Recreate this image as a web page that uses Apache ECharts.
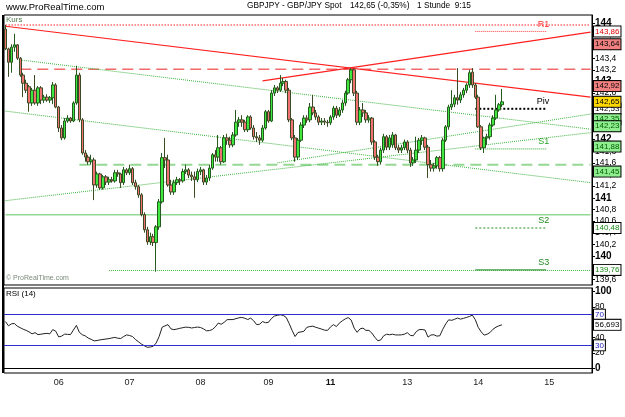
<!DOCTYPE html>
<html>
<head>
<meta charset="utf-8">
<script src="https://cdn.jsdelivr.net/npm/echarts@6/dist/echarts.min.js"></script>
<style>
  html, body { margin: 0; padding: 0; background: #fff; }
  #chart { width: 625px; height: 417px; }
</style>
</head>
<body>
<div id="chart"></div>
<script>
// day labels on the time axis and the hourly slot they sit on
const dayLabels = ['06', '07', '08', '09', '11', '13', '14', '15'];
const dayIndex = [18, 42, 66, 89, 110, 136, 160, 184];
const slotCount = 199;

// hourly candles: open, close, low, high
const candles = [
  [143.90,143.56,143.54,143.97],[143.56,143.33,143.08,143.58],[143.33,143.59,143.15,143.64],[143.59,143.63,143.51,143.82],
  [143.63,143.40,143.37,143.64],[143.40,143.11,143.08,143.42],[143.11,142.97,142.73,143.15],[142.97,142.85,142.80,143.03],
  [142.91,142.63,142.48,142.94],[142.63,142.85,142.58,142.89],[142.85,142.63,142.60,143.11],[142.63,142.89,142.58,142.92],
  [142.89,142.68,142.61,142.92],[142.68,142.73,142.63,142.77],[142.73,142.68,142.65,142.78],[142.68,142.72,142.63,142.75],
  [142.72,142.94,142.61,142.99],[142.94,142.56,142.54,142.97],[142.56,142.20,142.13,142.58],[142.20,142.03,141.99,142.25],
  [142.03,142.32,142.00,142.37],[142.32,142.37,142.29,142.42],[142.37,142.32,142.29,142.39],[142.32,142.63,142.30,142.66],
  [142.63,143.11,142.60,143.27],[143.11,142.34,142.30,143.15],[142.34,141.77,141.74,142.37],[141.77,141.70,141.62,141.82],
  [141.70,141.62,141.57,141.74],[141.62,141.65,141.57,141.74],[141.65,141.22,140.96,141.69],[141.22,141.41,141.17,141.45],
  [141.41,141.17,141.14,141.43],[141.17,141.36,141.14,141.39],[141.36,141.27,141.22,141.39],[141.27,141.31,141.22,141.36],
  [141.31,141.29,141.26,141.36],[141.29,141.43,141.26,141.48],[141.43,141.41,141.36,141.48],[141.41,141.26,141.17,141.43],
  [141.26,141.48,141.22,141.53],[141.48,141.43,141.39,141.51],[141.43,141.50,141.39,141.57],[141.50,141.26,141.22,141.53],
  [141.26,141.19,141.14,141.31],[141.19,141.05,141.00,141.22],[141.05,140.71,140.68,141.08],[140.71,140.45,140.40,140.75],
  [140.45,140.24,140.19,140.50],[140.24,140.33,140.19,140.40],[140.33,140.23,140.17,140.38],[140.23,140.50,139.73,140.53],
  [140.50,140.93,140.45,140.98],[140.93,141.69,140.90,141.77],[141.69,141.65,141.51,142.03],[141.65,141.22,141.19,141.74],
  [141.22,141.10,141.05,141.31],[141.10,141.26,141.05,141.31],[141.26,141.31,141.22,141.36],[141.31,141.29,141.22,141.34],
  [141.29,141.45,141.26,141.50],[141.45,141.48,141.41,141.57],[141.48,141.39,141.34,141.51],[141.39,141.36,141.29,141.45],
  [141.36,141.31,141.00,141.45],[141.31,141.45,141.27,141.50],[141.45,141.48,141.39,141.53],[141.48,141.27,141.22,141.50],
  [141.27,141.34,141.22,141.39],[141.34,141.51,141.29,141.57],[141.51,141.74,141.48,141.77],[141.74,141.70,141.62,141.82],
  [141.70,141.86,141.62,142.08],[141.86,141.62,141.57,141.89],[141.62,142.03,141.60,142.08],[142.03,141.99,141.91,142.10],
  [141.99,141.91,141.86,142.05],[141.91,142.08,141.87,142.13],[142.08,142.30,142.05,142.51],[142.30,142.34,142.22,142.39],
  [142.34,142.30,142.22,142.42],[142.30,142.17,142.13,142.34],[142.17,142.39,142.13,142.42],[142.39,142.20,142.17,142.42],
  [142.20,142.05,142.00,142.25],[142.05,142.03,141.96,142.13],[142.03,141.99,141.91,142.08],[141.99,142.20,141.96,142.25],
  [142.20,142.48,142.17,142.51],[142.48,142.32,142.29,142.51],[142.32,142.80,142.30,142.85],[142.80,142.89,142.75,142.94],
  [142.89,142.85,142.80,142.92],[142.85,142.97,142.82,143.11],[142.97,143.00,142.92,143.06],[143.00,142.85,142.80,143.03],
  [142.85,142.34,142.30,142.89],[142.34,142.03,141.99,142.37],[142.03,141.70,141.62,142.08],[141.70,141.99,141.65,142.03],
  [141.99,142.25,141.96,142.30],[142.25,142.37,142.20,142.42],[142.37,142.34,142.29,142.42],[142.34,142.56,142.30,142.63],
  [142.56,142.46,142.42,142.77],[142.46,142.39,142.34,142.51],[142.39,142.30,142.25,142.42],[142.30,142.32,142.25,142.37],
  [142.32,142.30,142.25,142.37],[142.30,142.29,142.22,142.34],[142.29,142.39,142.25,142.42],[142.39,142.54,142.34,142.58],
  [142.54,142.42,142.37,142.58],[142.42,142.51,142.39,142.56],[142.51,142.63,142.46,142.68],[142.63,142.80,142.58,142.84],
  [142.80,143.03,142.77,143.06],[143.03,143.20,142.97,143.23],[143.20,142.80,142.75,143.22],[142.80,142.30,142.25,142.84],
  [142.30,142.51,142.25,142.56],[142.51,142.46,142.39,142.63],[142.46,142.34,142.29,142.51],[142.34,142.37,142.29,142.42],
  [142.37,141.96,141.91,142.39],[141.96,141.70,141.65,141.99],[141.70,141.62,141.55,141.74],[141.62,141.82,141.57,141.86],
  [141.82,142.05,141.77,142.10],[142.05,141.87,141.82,142.08],[141.87,142.03,141.82,142.08],[141.91,142.08,141.86,142.13],
  [142.08,141.86,141.82,142.10],[141.86,141.82,141.77,141.91],[141.82,141.86,141.77,141.91],[141.86,141.96,141.82,142.00],
  [141.96,141.82,141.77,141.99],[141.82,141.60,141.53,141.86],[141.60,141.65,141.55,141.70],[141.65,141.82,141.60,142.05],
  [141.82,141.99,141.77,142.03],[141.99,142.03,141.91,142.08],[142.03,141.87,141.82,142.05],[141.87,141.57,141.34,141.91],
  [141.57,141.51,141.45,141.65],[141.51,141.55,141.45,141.60],[141.55,141.69,141.50,141.72],[141.69,141.50,141.45,141.72],
  [141.50,141.99,141.45,142.03],[141.99,142.22,141.96,142.25],[142.22,142.56,142.17,142.60],[142.56,142.61,142.51,142.85],
  [142.61,142.72,142.56,142.77],[142.72,142.68,142.60,143.23],[142.68,142.77,142.63,142.82],[142.77,142.85,142.72,142.89],
  [142.85,142.94,142.80,142.97],[142.94,143.15,142.89,143.20],[143.16,142.94,142.89,143.23],[142.94,142.73,142.70,142.97],
  [142.73,142.22,142.20,142.77],[142.22,141.86,141.82,142.25],[141.86,142.03,141.77,142.05],[142.03,142.05,141.91,142.10],
  [142.05,142.25,142.00,142.29],[142.25,142.37,142.22,142.42],[142.37,142.51,142.34,142.77],[142.51,142.60,142.48,142.63],
  [142.60,142.65,142.56,142.87]
];

const rsi = [
  61, 55.5, 58, 58.5, 55, 53, 51, 49.5, 47.5, 45,
  46.5, 44, 44.5, 45.2, 45.6, 45, 50.5, 48.5, 41, 42,
  44.6, 44.3, 44, 50, 56, 47, 43.8, 42.3, 39.5, 37.8,
  35.8, 36.3, 37.1, 37.7, 38.2, 38.8, 39.6, 40.4, 39.3, 38.9,
  41.5, 43.6, 42.8, 41.5, 37.5, 34.7, 31.7, 29.4, 27.4, 27.8,
  28.8, 33, 41.5, 53.5, 55.5, 57, 51.5, 50.4, 51.2, 52.2,
  53, 53.7, 53.5, 52.6, 53.3, 53.8, 53.3, 51.5, 49, 49.2,
  50.6, 54, 59, 57.5, 60, 63.5, 63.6, 63.6, 64.8, 65.9,
  66.4, 65.3, 63.7, 65.5, 62, 57, 57.5, 61, 59.5, 60,
  65, 68.2, 69.1, 69.9, 69, 66.5, 58.5, 49.5, 41.5, 46.8,
  47.5, 48.3, 53.5, 54.5, 55, 53.5, 52.4, 51.2, 49.8, 49.5,
  54, 57, 54.5, 59, 62, 64.5, 66.2, 63, 52.5, 47,
  51.5, 52.5, 49.5, 49.5, 46, 40.5, 36, 37, 42.5, 44.5,
  43.8, 44.5, 43.6, 43.5, 43.7, 44.5, 46.5, 43, 42.5, 47.8,
  50.5, 50.6, 50, 40.7, 43.5, 43.8, 42, 42.5, 51, 58,
  63.3, 62.6, 64, 65.6, 64.2, 65.2, 66.4, 67.6, 69.4, 63.5,
  53.5, 47.5, 43.3, 44.5, 46.8, 51, 53.7, 55.5, 56.7
];
const rsiLast = 56.693;
const rsiBands = [70, 30];

const priceTicks = [139.6, 139.8, 140, 140.2, 140.4, 140.6, 140.8, 141, 141.2, 141.4, 141.6, 141.8,
  142, 142.2, 142.4, 142.6, 142.8, 143, 143.2, 143.4, 143.6, 143.8, 144];
const rsiTicks = [0, 20, 40, 60, 80, 100];

// value boxes on the price scale
const priceBoxes = [143.86, 143.64, 142.92, 142.53, 142.65, 142.35, 142.23, 141.88, 141.45, 140.48, 139.76];

// trend lines and levels: [slot, price] pairs
const topDotted = [[0, 143.97], [198, 143.97]];
const redDown = [[0, 143.95], [198, 142.73]];
const redUp = [[87, 143.01], [198, 143.85]];
const redDashed = [[5, 143.21], [198, 143.21]];
const greenA = [[0, 142.49], [198, 141.26]];
const greenB = [[5, 143.37], [198, 142.18]];
const greenC = [[0, 140.95], [198, 142.12]];
const greenD = [[92, 141.60], [198, 142.44]];
const supportDashed = [[25, 141.57], [198, 141.57]];
const supportSolid = [[0, 140.71], [198, 140.71]];
const lowDotted = [[35, 139.75], [198, 139.75]];
const pivotNames = ['R1', 'Piv', 'S1', 'S2', 'S3'];
const pivotValues = [143.86, 142.53, 141.84, 140.48, 139.76];
const pivotSpan = [159, 183];

const FONT = 'Liberation Sans, Arial, sans-serif';
const boxStyles = [
  ['#ffffff', '#e00000'], ['#f08080', '#000000'], ['#f08080', '#000000'], ['#ffffff', '#000000'],
  ['#ffd700', '#000000'], ['#90ee90', '#006000'], ['#90ee90', '#006000'], ['#90ee90', '#006000'],
  ['#90ee90', '#006000'], ['#ffffff', '#1a8a1a'], ['#ffffff', '#1a8a1a']
];
const pivotColors = ['#ff3030', '#000000', '#2aa52a', '#1e8a1e', '#1e8a1e'];
const pivotLine = [
  { color: '#ff4040', type: 'dotted', width: 1 },
  { color: '#000000', type: [2, 2], width: 2 },
  { color: '#2aa52a', type: 'dotted', width: 1 },
  { color: '#1e8a1e', type: [2, 2], width: 1 },
  { color: '#1e8a1e', type: 'solid', width: 1 }
];
const HIDDEN = 'rgba(0,0,0,0)';

const categories = [];
for (let i = 0; i < slotCount; i++) categories.push('');
dayIndex.forEach(function (ix, k) { categories[ix] = dayLabels[k]; });

function comma(v, d) {
  return v.toFixed(d).replace('.', ',');
}

function levelSeries(data, color, type, width) {
  return {
    type: 'line', xAxisIndex: 0, yAxisIndex: 0, data: data,
    symbol: 'none', silent: true, z: 3,
    lineStyle: { color: color, type: type, width: width }
  };
}

const boxLabel = {
  show: true, position: 'end', distance: 2,
  fontSize: 8, fontFamily: FONT, lineHeight: 9,
  borderColor: '#000', borderWidth: 1, padding: [1, 1, 0, 1]
};

const chart = echarts.init(document.getElementById('chart'));

const series = [
  levelSeries(topDotted, '#ff6b6b', 'dotted', 1.5),
  levelSeries(redDashed, '#f26a6a', [11, 6], 1.5),
  levelSeries(supportDashed, '#94d894', [11, 6], 2),
  levelSeries(supportSolid, '#94d894', 'solid', 1.5),
  levelSeries(lowDotted, '#3cb43c', 'dotted', 1),
  levelSeries(greenA, '#3cb43c', 'dotted', 1),
  levelSeries(greenB, '#3cb43c', 'dotted', 1),
  levelSeries(greenC, '#3cb43c', 'dotted', 1),
  levelSeries(greenD, '#3cb43c', 'dotted', 1),
  levelSeries(redDown, '#ff2020', 'solid', 1.2),
  levelSeries(redUp, '#ff2020', 'solid', 1.2)
];

pivotNames.forEach(function (name, k) {
  const s = levelSeries([[pivotSpan[0], pivotValues[k]], [pivotSpan[1], pivotValues[k]]],
    pivotLine[k].color, pivotLine[k].type, pivotLine[k].width);
  s.endLabel = {
    show: true, formatter: name, color: pivotColors[k],
    fontSize: 9, fontFamily: FONT, align: 'right', offset: [-5, -7]
  };
  series.push(s);
});

series.push({
  type: 'candlestick', xAxisIndex: 0, yAxisIndex: 0, data: candles,
  barWidth: 3, z: 4,
  itemStyle: {
    color: '#3ee83e', color0: '#f07272',
    borderColor: '#245a1e', borderColor0: '#3a4a22', borderWidth: 1
  }
});

// value boxes at the right end of the price scale
series.push({
  type: 'line', xAxisIndex: 0, yAxisIndex: 0, data: [], z: 6,
  markLine: {
    silent: true, symbol: ['none', 'none'], animation: false, precision: 2,
    lineStyle: { color: HIDDEN, width: 1 },
    label: Object.assign({}, boxLabel, {
      formatter: function (p) { return comma(p.value, 2); }
    }),
    data: priceBoxes.map(function (v, k) {
      return { yAxis: v, label: { backgroundColor: boxStyles[k][0], color: boxStyles[k][1] } };
    })
  }
});

series.push({
  type: 'line', xAxisIndex: 1, yAxisIndex: 1, data: rsi,
  symbol: 'none', silent: true,
  lineStyle: { color: '#222', width: 1 },
  markLine: {
    silent: true, symbol: ['none', 'none'], animation: false, precision: 3,
    label: Object.assign({}, boxLabel, {
      backgroundColor: '#fff',
      formatter: function (p) { return Number.isInteger(p.value) ? String(p.value) : comma(p.value, 3); }
    }),
    data: rsiBands.map(function (v) {
      return { yAxis: v, lineStyle: { color: '#3030d0', width: 1, type: 'solid' }, label: { color: '#2020c0' } };
    }).concat([{ yAxis: rsiLast, lineStyle: { color: HIDDEN, width: 1 }, label: { color: '#000' } }])
  }
});

const option = {
  animation: false,
  backgroundColor: '#fff',
  textStyle: { fontFamily: FONT },
  grid: [
    { left: 4, right: 33, top: 15, height: 270, show: true, borderColor: '#000', borderWidth: 1, backgroundColor: 'transparent' },
    { left: 4, right: 33, top: 288, height: 85, show: true, borderColor: '#000', borderWidth: 1, backgroundColor: 'transparent' }
  ],
  xAxis: [
    { type: 'category', gridIndex: 0, data: categories, boundaryGap: true, show: false },
    {
      type: 'category', gridIndex: 1, data: categories, boundaryGap: true,
      axisLine: { lineStyle: { color: '#000', width: 1 } },
      axisTick: {
        alignWithLabel: true, length: 3, lineStyle: { color: '#000' },
        interval: function (i, v) { return v !== ''; }
      },
      axisLabel: {
        interval: function (i, v) { return v !== ''; },
        fontSize: 9, color: '#222', margin: 5,
        formatter: function (v) { return v === '11' ? '{b|11}' : v; },
        rich: { b: { fontSize: 9, fontWeight: 'bold', color: '#111' } }
      },
      splitLine: { show: false }
    }
  ],
  yAxis: [
    {
      type: 'value', gridIndex: 0, position: 'right', min: 139.50, max: 144.143, scale: true,
      axisLine: { show: true, lineStyle: { color: '#000' } },
      axisTick: { show: true, length: 3, lineStyle: { color: '#000' }, customValues: priceTicks },
      axisLabel: {
        customValues: priceTicks, margin: 3,
        formatter: function (v) {
          if (Math.abs(v - Math.round(v)) < 1e-6) return '{b|' + Math.round(v) + '}';
          return '{n|' + comma(v, 1) + '}';
        },
        rich: {
          b: { fontSize: 10, fontWeight: 'bold', color: '#000', fontFamily: FONT },
          n: { fontSize: 8.5, color: '#000', fontFamily: FONT }
        }
      },
      splitLine: { show: false }
    },
    {
      type: 'value', gridIndex: 1, position: 'right', min: -6.1, max: 104.8,
      axisLine: { show: true, lineStyle: { color: '#000' } },
      axisTick: { show: true, length: 3, lineStyle: { color: '#000' }, customValues: rsiTicks },
      axisLabel: {
        customValues: rsiTicks, margin: 3,
        formatter: function (v) {
          return (v === 0 || v === 100) ? '{b|' + v + '}' : '{n|' + v + '}';
        },
        rich: {
          b: { fontSize: 10, fontWeight: 'bold', color: '#000', fontFamily: FONT },
          n: { fontSize: 8.5, color: '#000', fontFamily: FONT }
        }
      },
      splitLine: { show: false }
    }
  ],
  graphic: [
    { type: 'line', shape: { x1: 3, y1: 15, x2: 3, y2: 373 }, style: { stroke: '#000', lineWidth: 2 }, z: 10 },
    { type: 'text', left: 6, top: 2, style: { text: 'www.ProRealTime.com', font: '9.5px ' + FONT, fill: '#000' } },
    { type: 'text', left: 247, top: 2, style: { text: 'GBPJPY - GBP/JPY Spot', font: '8.3px ' + FONT, fill: '#000' } },
    { type: 'text', left: 350, top: 2, style: { text: '142,65 (-0,35%)', font: '8.3px ' + FONT, fill: '#000' } },
    { type: 'text', left: 417, top: 2, style: { text: '1 Stunde  9:15', font: '8.3px ' + FONT, fill: '#000' } },
    { type: 'text', left: 6, top: 16, style: { text: 'Kurs', font: '8px ' + FONT, fill: '#4f7a4f' } },
    { type: 'text', left: 6, top: 275, style: { text: '\u00a9 ProRealTime.com', font: '7px ' + FONT, fill: '#7a8a7a' } },
    { type: 'text', left: 6, top: 290, style: { text: 'RSI (14)', font: '8px ' + FONT, fill: '#000' } }
  ],
  series: series
};

chart.setOption(option);
</script>
</body>
</html>
